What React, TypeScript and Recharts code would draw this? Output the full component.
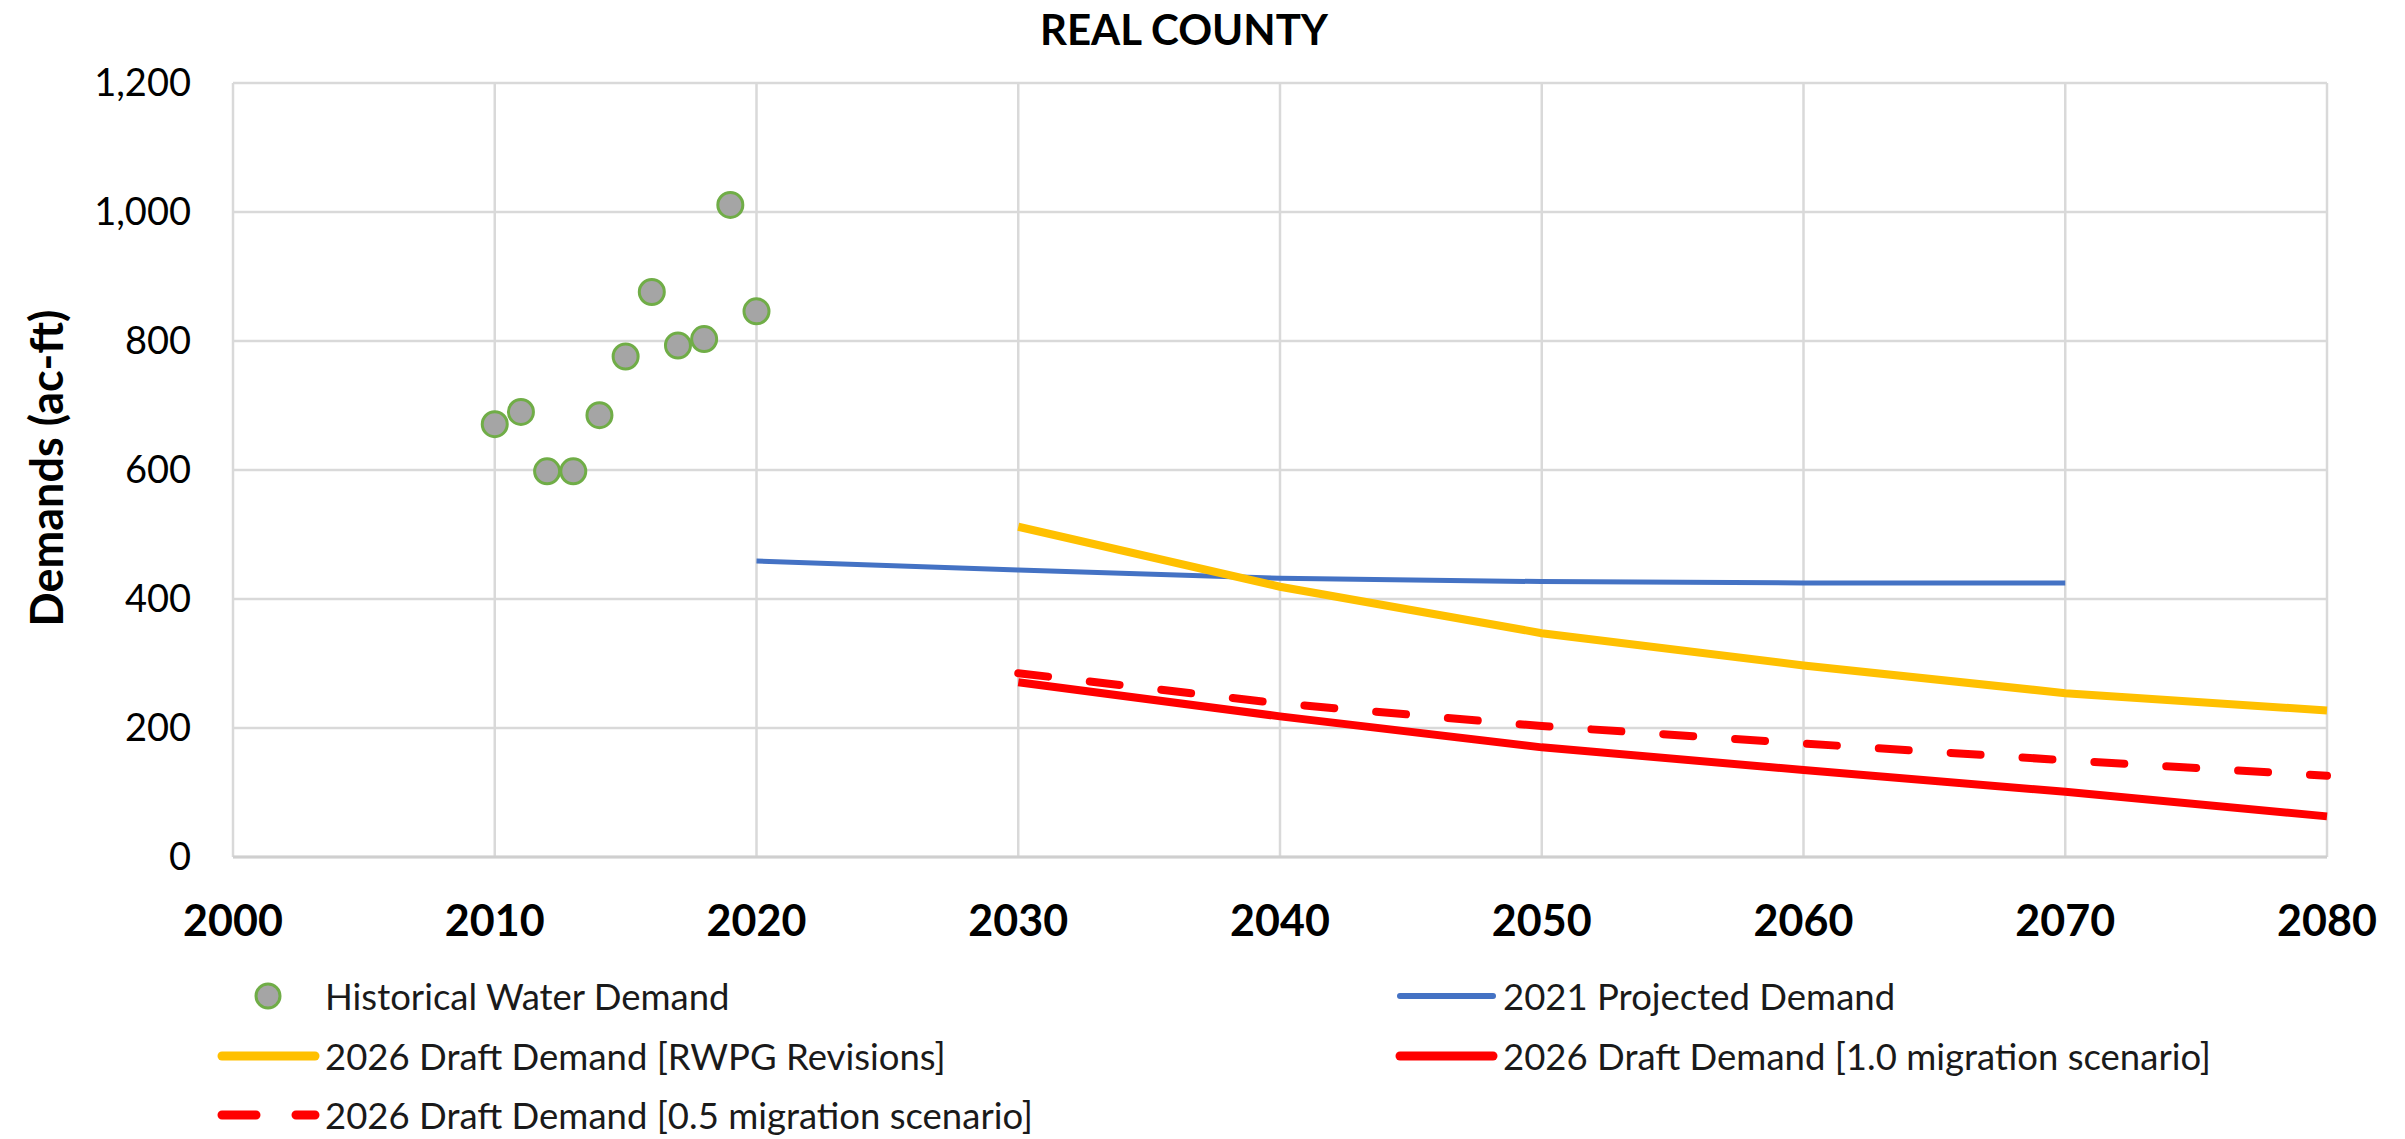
import { ComposedChart, Line, Scatter, XAxis, YAxis, CartesianGrid, Legend, Label } from "recharts";

// historical points, one per year
const HIST_YEARS = [2010, 2011, 2012, 2013, 2014, 2015, 2016, 2017, 2018, 2019, 2020];
const HIST_DEMAND = [671, 690, 598, 598, 685, 776, 876, 793, 803, 1011, 846];

// 2021 plan projection (decades)
const PROJ_YEARS = [2020, 2030, 2040, 2050, 2060, 2070];
const PROJ_2021 = [459, 445, 432, 427, 425, 425];

// 2026 draft scenarios
const DRAFT_YEARS = [2030, 2040, 2050, 2060, 2070, 2080];
const DRAFT_RWPG = [512, 419, 347, 297, 254, 227];
const DRAFT_MIG_10 = [271, 218, 170, 135, 101, 63];
const DRAFT_MIG_05 = [285, 238, 203, 176, 150, 126];

const X_TICKS = [2000, 2010, 2020, 2030, 2040, 2050, 2060, 2070, 2080];
const Y_TICKS = [0, 200, 400, 600, 800, 1000, 1200];

const FONT = "Lato, 'Open Sans', sans-serif";
const W = 2405;
const H = 1139;

const toRows = (years: number[], values: number[]) =>
  years.map((year, i) => ({ year, value: values[i] }));

const histData = toRows(HIST_YEARS, HIST_DEMAND);
const projData = toRows(PROJ_YEARS, PROJ_2021);
const rwpgData = toRows(DRAFT_YEARS, DRAFT_RWPG);
const mig10Data = toRows(DRAFT_YEARS, DRAFT_MIG_10);
const mig05Data = toRows(DRAFT_YEARS, DRAFT_MIG_05);

type LegendItem = {
  name: string;
  kind: "dot" | "line" | "dash";
  color: string;
  width: number;
  col: number;
  row: number;
};

const LEGEND_ITEMS: LegendItem[] = [
  { name: "Historical Water Demand", kind: "dot", color: "#A5A5A5", width: 3, col: 0, row: 0 },
  { name: "2021 Projected Demand", kind: "line", color: "#4472C4", width: 6, col: 1, row: 0 },
  { name: "2026 Draft Demand [RWPG Revisions]", kind: "line", color: "#FFC000", width: 9, col: 0, row: 1 },
  { name: "2026 Draft Demand [1.0 migration scenario]", kind: "line", color: "#FF0000", width: 9, col: 1, row: 1 },
  { name: "2026 Draft Demand [0.5 migration scenario]", kind: "dash", color: "#FF0000", width: 9, col: 0, row: 2 },
];

const LEGEND_COLS = [218, 1396];
const LEGEND_ROWS = [46, 106, 165];

function ChartLegend() {
  return (
    <svg width={W} height={189} style={{ display: "block" }}>
      {LEGEND_ITEMS.map((it) => {
        const x = LEGEND_COLS[it.col];
        const y = LEGEND_ROWS[it.row];
        return (
          <g key={it.name}>
            {it.kind === "dot" ? (
              <circle cx={x + 50} cy={y} r={12} fill={it.color} stroke="#70AD47" strokeWidth={it.width} />
            ) : (
              <line
                x1={x + 4}
                x2={x + 97}
                y1={y}
                y2={y}
                stroke={it.color}
                strokeWidth={it.width}
                strokeLinecap="round"
                strokeDasharray={it.kind === "dash" ? "34 40" : undefined}
              />
            )}
            <text x={x + 107} y={y} dominantBaseline="central" fontFamily={FONT} fontSize={36.5} fill="#1a1a1a">
              {it.name}
            </text>
          </g>
        );
      })}
    </svg>
  );
}

const dotShape = (props: any) => (
  <circle cx={props.cx} cy={props.cy} r={12.5} fill="#A5A5A5" stroke="#70AD47" strokeWidth={3} />
);

export default function App() {
  return (
    <div style={{ position: "absolute", left: 0, top: 0, width: W, height: H, background: "#fff", fontFamily: FONT }}>
      <div
        style={{
          position: "absolute",
          left: 0,
          width: 2368,
          top: 4,
          textAlign: "center",
          fontSize: 42,
          fontWeight: 700,
          color: "#000",
          lineHeight: "50px",
        }}
      >
        REAL COUNTY
      </div>
      <ComposedChart width={W} height={H} margin={{ top: 83, right: 78, left: 0, bottom: 222 }}>
        <CartesianGrid stroke="#D9D9D9" strokeWidth={2.5} />
        <XAxis
          type="number"
          dataKey="year"
          domain={[2000, 2080]}
          ticks={X_TICKS}
          allowDuplicatedCategory={false}
          height={60}
          tickLine={false}
          tickSize={10}
          tickMargin={38}
          axisLine={{ stroke: "#CFCFCF", strokeWidth: 3 }}
          tick={{ fontFamily: FONT, fontSize: 43, fontWeight: 700, fill: "#000" }}
          interval={0}
        />
        <YAxis
          type="number"
          domain={[0, 1200]}
          ticks={Y_TICKS}
          width={233}
          tickLine={false}
          tickSize={10}
          tickMargin={32}
          axisLine={false}
          tick={{ fontFamily: FONT, fontSize: 38, fill: "#000" }}
          tickFormatter={(v: number) => v.toLocaleString("en-US")}
          interval={0}
        >
          <Label
            content={(p: any) => {
              const cy = p.viewBox.y + p.viewBox.height / 2 - 2;
              return (
                <text
                  x={46}
                  y={cy}
                  transform={`rotate(-90 46 ${cy})`}
                  textAnchor="middle"
                  dominantBaseline="central"
                  fontFamily={FONT}
                  fontSize={45}
                  fontWeight={700}
                  fill="#000"
                >
                  Demands (ac-ft)
                </text>
              );
            }}
          />
        </YAxis>
        <Line
          data={projData}
          dataKey="value"
          name="2021 Projected Demand"
          stroke="#4472C4"
          strokeWidth={5}
          dot={false}
          activeDot={false}
          type="linear"
          isAnimationActive={false}
        />
        <Line
          data={rwpgData}
          dataKey="value"
          name="2026 Draft Demand [RWPG Revisions]"
          stroke="#FFC000"
          strokeWidth={8}
          dot={false}
          activeDot={false}
          type="linear"
          isAnimationActive={false}
        />
        <Line
          data={mig10Data}
          dataKey="value"
          name="2026 Draft Demand [1.0 migration scenario]"
          stroke="#FF0000"
          strokeWidth={8}
          dot={false}
          activeDot={false}
          type="linear"
          isAnimationActive={false}
        />
        <Line
          data={mig05Data}
          dataKey="value"
          name="2026 Draft Demand [0.5 migration scenario]"
          stroke="#FF0000"
          strokeWidth={8}
          strokeDasharray="30 42"
          strokeLinecap="round"
          dot={false}
          activeDot={false}
          type="linear"
          isAnimationActive={false}
        />
        <Scatter
          data={histData}
          dataKey="value"
          name="Historical Water Demand"
          shape={dotShape}
          isAnimationActive={false}
        />
        <Legend
          layout="horizontal"
          verticalAlign="middle"
          align="center"
          content={() => <ChartLegend />}
          wrapperStyle={{ left: 0, top: 950, width: W, height: 189 }}
        />
      </ComposedChart>
    </div>
  );
}
